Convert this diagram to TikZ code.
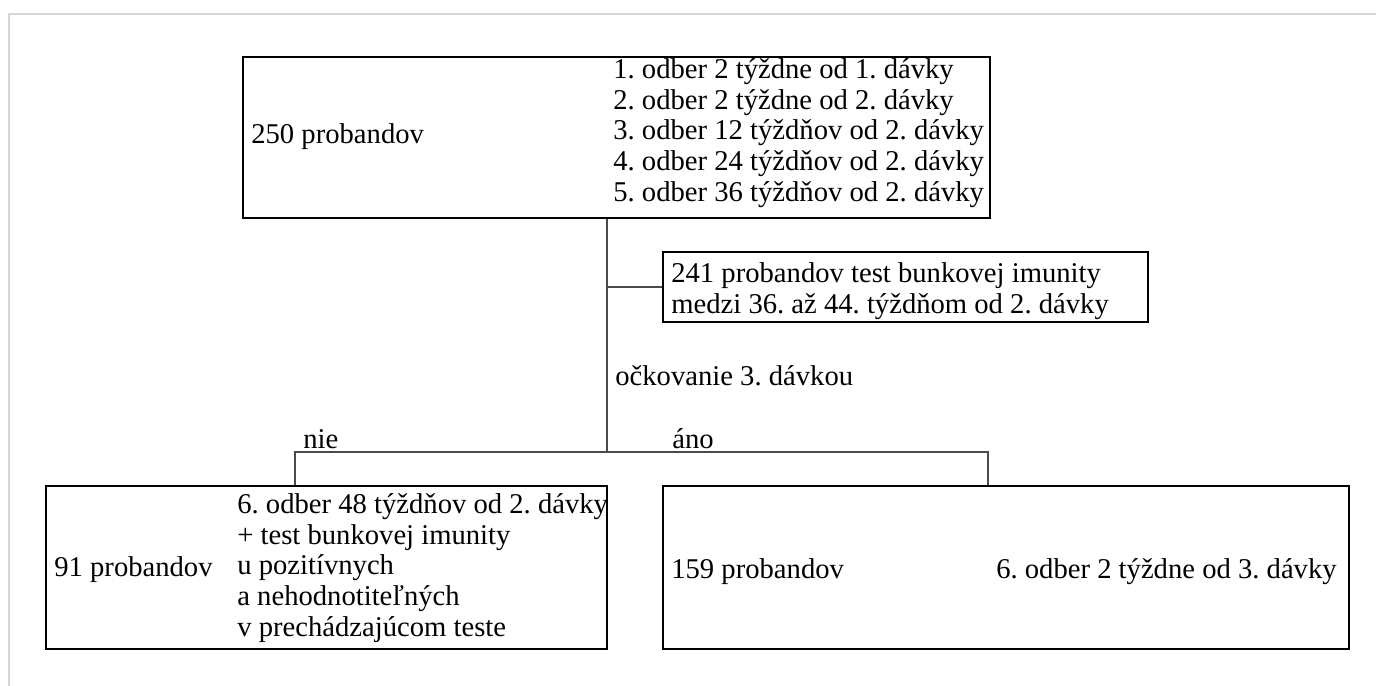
\documentclass[tikz,border=0pt]{standalone}
\usepackage{fontspec}
\setmainfont{Liberation Serif}
\frenchspacing
\usetikzlibrary{positioning,calc}
\definecolor{pageline}{HTML}{D6D6D6}
\definecolor{wire}{HTML}{4A4A4A}
\tikzset{
  box/.style={draw=black, line width=0.8pt, inner sep=0pt},
  boxb/.style={draw=black, line width=1.1pt, inner sep=0pt},
  txt/.style={inner sep=0pt, align=left, font=\fontsize{16.3}{17.4}\selectfont},
  wire/.style={draw=wire, line width=0.6pt}
}

\begin{document}
\begin{tikzpicture}[x=0.02cm, y=-0.02cm]
      \useasboundingbox (0,0) rectangle (1376,686);
      \draw[pageline, line width=1.2pt] (9,686) -- (9,14) -- (1376,14);
      % boxes
      \node[box, minimum width=14.94cm, minimum height=3.22cm] (start) at (616.5,137.5) {};
      \node[box, minimum width=9.70cm, minimum height=1.40cm] (cell) at (905.5,287) {};
      \node[boxb, minimum width=11.22cm, minimum height=3.26cm] (nobox) at (326.5,567.5) {};
      \node[boxb, minimum width=13.72cm, minimum height=3.26cm] (yesbox) at (1006,567.5) {};
      % texts
      \node[txt, anchor=west] (n250) at (251,137) {250 probandov};
      \node[txt, anchor=west] (odbery) at (613,133) {1. odber 2 týždne od 1. dávky\\
        2. odber 2 týždne od 2. dávky\\
        3. odber 12 týždňov od 2. dávky\\
        4. odber 24 týždňov od 2. dávky\\
        5. odber 36 týždňov od 2. dávky};
      \node[txt, anchor=west] (bunky) at (671,291) {241 probandov test bunkovej imunity\\
        medzi 36. až 44. týždňom od 2. dávky};
      \node[txt, anchor=west] (dose3) at (615,376) {očkovanie 3. dávkou};
      \node[txt, anchor=west] (nie) at (303,439) {nie};
      \node[txt, anchor=west] (ano) at (672,439) {áno};
      \node[txt, anchor=west] (n91) at (54,570) {91 probandov};
      \node[txt, anchor=west] (odber6a) at (237,568) {6. odber 48 týždňov od 2. dávky\\
        + test bunkovej imunity\\
        u pozitívnych\\
        a nehodnotiteľných\\
        v prechádzajúcom teste};
      \node[txt, anchor=west] (n159) at (671,572) {159 probandov};
      \node[txt, anchor=east] (odber6b) at (1337,572) {6. odber 2 týždne od 3. dávky};
      % connectors
      \coordinate (fork) at (607,452);
      \coordinate (lb) at (295,452);
      \coordinate (rb) at (988,452);
      \draw[wire] (start.south -| fork) -- (fork);
      \draw[wire] (cell.west) -- (cell.west -| fork);
      \draw[wire] (nobox.north -| lb) -- (lb) -- (rb) -- (yesbox.north -| rb);
    \end{tikzpicture}
\end{document}
